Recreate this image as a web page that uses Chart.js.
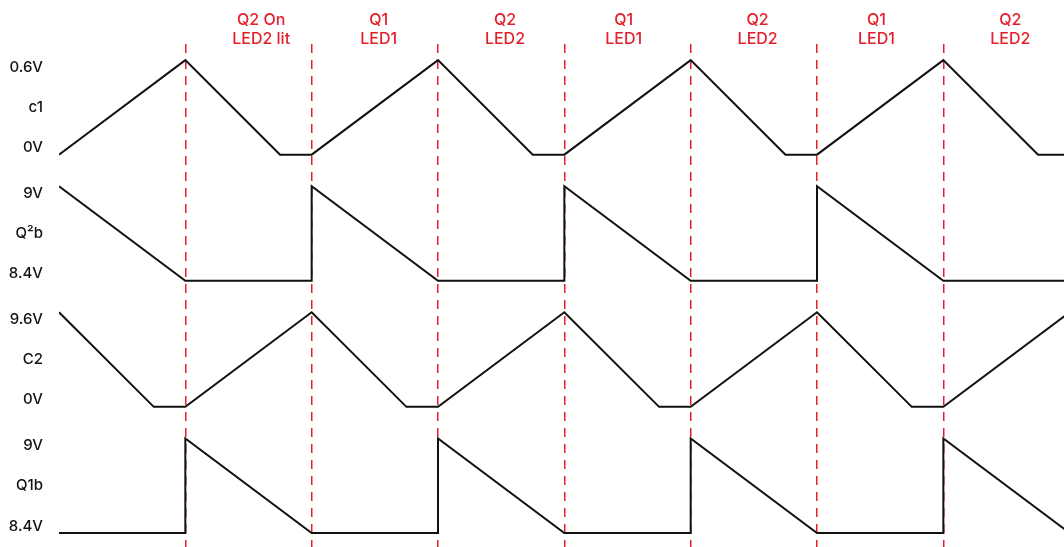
<!DOCTYPE html>
<html>
<head>
<meta charset="utf-8">
<script src="https://cdn.jsdelivr.net/npm/chart.js@4"></script>
<style>
  html, body { margin: 0; padding: 0; background: #fff; }
  #wrap { width: 1064px; height: 547px; position: relative; }
</style>
</head>
<body>
<div id="wrap"><canvas id="wave"></canvas></div>
<script>
// ─── Data ─────────────────────────────────────────────────────────
// time in half-cycles (one dashed interval = 1)
const c1Time  = [0, 1, 1.75, 2, 3, 3.75, 4, 5, 5.75, 6, 7, 7.75, 8];
const c1Volts = [0, 0.6, 0, 0, 0.6, 0, 0, 0.6, 0, 0, 0.6, 0, 0];

const q2bTime  = [0, 1, 2, 2, 3, 4, 4, 5, 6, 6, 7, 8];
const q2bVolts = [9, 8.4, 8.4, 9, 8.4, 8.4, 9, 8.4, 8.4, 9, 8.4, 8.4];

const c2Time  = [0, 0.75, 1, 2, 2.75, 3, 4, 4.75, 5, 6, 6.75, 7, 8];
const c2Volts = [9.6, 0, 0, 9.6, 0, 0, 9.6, 0, 0, 9.6, 0, 0, 9.6];

const q1bTime  = [0, 1, 1, 2, 3, 3, 4, 5, 5, 6, 7, 7, 8];
const q1bVolts = [8.4, 8.4, 9, 8.4, 8.4, 9, 8.4, 8.4, 9, 8.4, 8.4, 9, 8.4];

const signalNames = ['c1', 'Q\u00B2b', 'C2', 'Q1b'];
const highLabels  = ['0.6V', '9V', '9.6V', '9V'];
const lowLabels   = ['0V', '8.4V', '0V', '8.4V'];
const signalMin   = [0, 8.4, 0, 8.4];
const signalMax   = [0.6, 9, 9.6, 9];

const switchTimes = [1, 2, 3, 4, 5, 6, 7];
const phaseTimes  = [1.6, 2.53, 3.53, 4.47, 5.53, 6.47, 7.53];
const phaseLabels = [['Q2 On', 'LED2 lit'], ['Q1', 'LED1'], ['Q2', 'LED2'], ['Q1', 'LED1'],
                     ['Q2', 'LED2'], ['Q1', 'LED1'], ['Q2', 'LED2']];

// ─── Lane layout (stacked traces) ─────────────────────────────────
const LANE_HEIGHT = 3;     // each trace spans 3 units
const LANE_STEP   = 4;     // distance between lane bottoms
const LABEL_INSET = 0.22;  // high/low labels sit slightly inside the lane
const RED   = '#e41f2b';
const INK   = '#111111';
const FONT  = "Inter, 'Open Sans', sans-serif";

function laneBase(i) { return (signalNames.length - 1 - i) * LANE_STEP; }

function toLane(i, v) {
    return laneBase(i) + (v - signalMin[i]) / (signalMax[i] - signalMin[i]) * LANE_HEIGHT;
}

const series = [
    [c1Time, c1Volts],
    [q2bTime, q2bVolts],
    [c2Time, c2Volts],
    [q1bTime, q1bVolts]
];

const datasets = series.map(([t, v], i) => ({
    label: signalNames[i],
    data: t.map((x, k) => ({ x: x, y: toLane(i, v[k]) })),
    borderColor: INK,
    borderWidth: 2,
    pointRadius: 0,
    tension: 0,
    fill: false
}));

// y ticks: high, name, low for each lane
const yTicks = [];
signalNames.forEach((name, i) => {
    yTicks.push({ value: laneBase(i) + LANE_HEIGHT - LABEL_INSET, label: highLabels[i] });
    yTicks.push({ value: laneBase(i) + LANE_HEIGHT / 2, label: name });
    yTicks.push({ value: laneBase(i) + LABEL_INSET, label: lowLabels[i] });
});

const X_MAX = 7.955;

new Chart(document.getElementById('wave'), {
    type: 'line',
    data: { datasets },
    options: {
        responsive: true,
        maintainAspectRatio: false,
        animation: false,
        layout: { padding: 0 },
        plugins: { legend: { display: false }, tooltip: { enabled: false } },
        scales: {
            x: {
                type: 'linear',
                position: 'bottom',
                min: 0,
                max: X_MAX,
                afterBuildTicks: s => { s.ticks = switchTimes.map(v => ({ value: v })); },
                afterFit: s => { s.height = 0; s.paddingLeft = 0; s.paddingRight = 0; },
                ticks: { display: false },
                grid: { color: RED, lineWidth: 1.5, drawTicks: false },
                border: { display: false, dash: [9, 7] }
            },
            x2: {
                type: 'linear',
                position: 'top',
                min: 0,
                max: X_MAX,
                afterBuildTicks: s => { s.ticks = phaseTimes.map(v => ({ value: v })); },
                afterFit: s => { s.height = 44; s.paddingLeft = 0; s.paddingRight = 0; },
                ticks: {
                    autoSkip: false,
                    maxRotation: 0,
                    padding: -4,
                    color: RED,
                    font: { family: FONT, size: 16, weight: 500, lineHeight: 1.15 },
                    callback: (v, idx) => phaseLabels[idx]
                },
                grid: { display: false, drawTicks: false },
                border: { display: false }
            },
            y: {
                min: -0.445,
                max: 15.51,
                afterBuildTicks: s => { s.ticks = yTicks.map(t => ({ value: t.value })); },
                afterFit: s => { s.width = 59; s.paddingTop = 0; s.paddingBottom = 0; },
                ticks: {
                    padding: 16,
                    color: INK,
                    font: { family: FONT, size: 15, weight: 500 },
                    callback: (v, idx) => yTicks[idx].label
                },
                grid: { display: false, drawTicks: false },
                border: { display: false }
            }
        }
    }
});
</script>
</body>
</html>
